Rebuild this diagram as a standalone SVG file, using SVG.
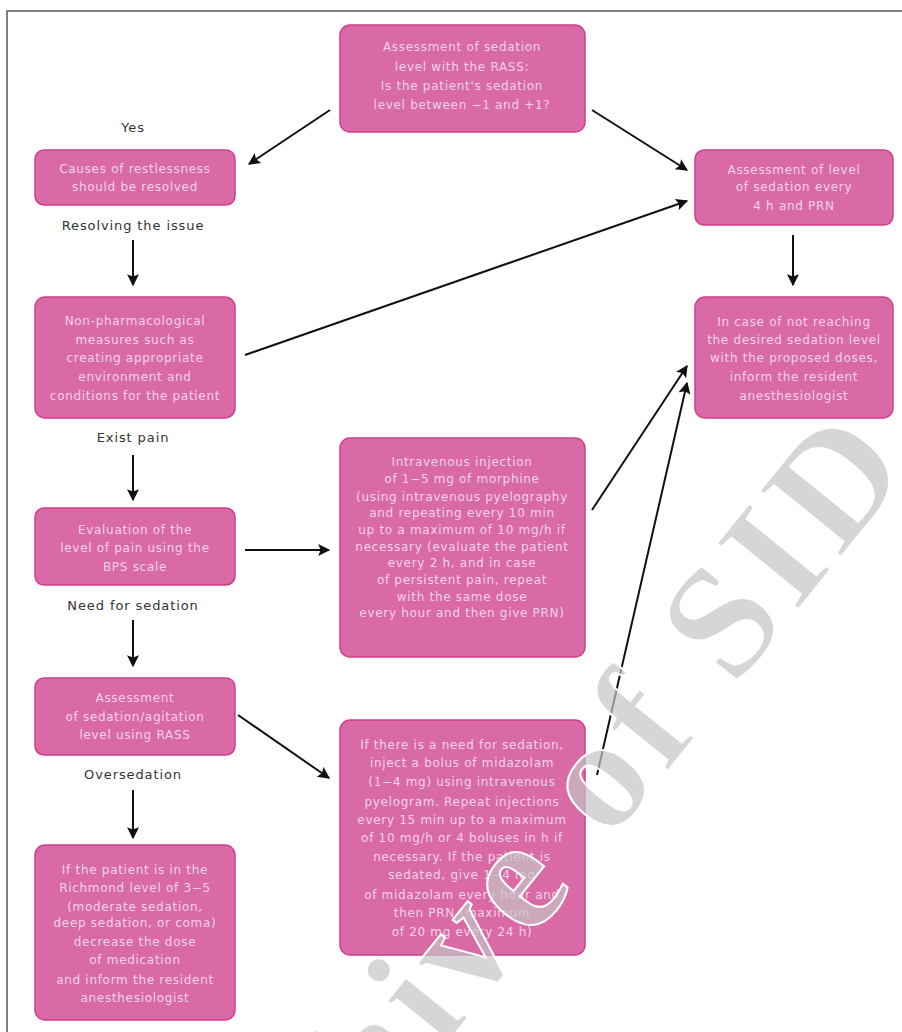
<svg xmlns="http://www.w3.org/2000/svg" width="902" height="1032" viewBox="0 0 902 1032">
<defs>
<marker id="ah" viewBox="0 0 10 10" refX="9" refY="5" markerWidth="7" markerHeight="6" orient="auto" markerUnits="strokeWidth">
<path d="M0,0 L10,5 L0,10 L2,5 Z" fill="#111"/>
</marker>
</defs>
<style>
.box{fill:#d96aa6;stroke:#cf3f8d;stroke-width:1.5}
.bt{font-family:"DejaVu Sans","Liberation Sans",sans-serif;font-size:12px;letter-spacing:0.7px;fill:#f3d3e6;text-anchor:middle}
.lbl{font-family:"DejaVu Sans","Liberation Sans",sans-serif;font-size:13px;letter-spacing:0.9px;fill:#333;text-anchor:middle}
.con{stroke:#111;stroke-width:2;fill:none;marker-end:url(#ah)}
</style>
<rect width="902" height="1032" fill="#fff"/>
<path d="M7,1032 V11 H902" fill="none" stroke="#555" stroke-width="1.5"/>

<g id="n1"><rect class="box" x="340" y="25" width="245" height="107" rx="10"/>
<text class="bt" x="462" y="51">Assessment of sedation</text>
<text class="bt" x="462" y="71">level with the RASS:</text>
<text class="bt" x="462" y="90">Is the patient's sedation</text>
<text class="bt" x="462" y="109">level between −1 and +1?</text></g>

<g id="lyes"><text class="lbl" x="133" y="132">Yes</text></g>

<g id="n2"><rect class="box" x="35" y="150" width="200" height="55" rx="9"/>
<text class="bt" x="135" y="173">Causes of restlessness</text>
<text class="bt" x="135" y="191">should be resolved</text></g>
<g id="l2"><text class="lbl" x="133" y="230">Resolving the issue</text></g>

<g id="n3"><rect class="box" x="35" y="297" width="200" height="121" rx="10"/>
<text class="bt" x="135" y="325">Non-pharmacological</text>
<text class="bt" x="135" y="344">measures such as</text>
<text class="bt" x="135" y="362">creating appropriate</text>
<text class="bt" x="135" y="381">environment and</text>
<text class="bt" x="135" y="400">conditions for the patient</text></g>
<g id="l3"><text class="lbl" x="133" y="442">Exist pain</text></g>

<g id="n4"><rect class="box" x="35" y="508" width="200" height="77" rx="9"/>
<text class="bt" x="135" y="534">Evaluation of the</text>
<text class="bt" x="135" y="552">level of pain using the</text>
<text class="bt" x="135" y="571">BPS scale</text></g>
<g id="l4"><text class="lbl" x="133" y="610">Need for sedation</text></g>

<g id="n5"><rect class="box" x="35" y="678" width="200" height="77" rx="9"/>
<text class="bt" x="135" y="702">Assessment</text>
<text class="bt" x="135" y="721">of sedation/agitation</text>
<text class="bt" x="135" y="739">level using RASS</text></g>
<g id="l5"><text class="lbl" x="133" y="779">Oversedation</text></g>

<g id="n6"><rect class="box" x="35" y="845" width="200" height="175" rx="10"/>
<text class="bt" x="135" y="874">If the patient is in the</text>
<text class="bt" x="135" y="892">Richmond level of 3−5</text>
<text class="bt" x="135" y="911">(moderate sedation,</text>
<text class="bt" x="135" y="927">deep sedation, or coma)</text>
<text class="bt" x="135" y="946">decrease the dose</text>
<text class="bt" x="135" y="964">of medication</text>
<text class="bt" x="135" y="984">and inform the resident</text>
<text class="bt" x="135" y="1002">anesthesiologist</text></g>

<g id="n7"><rect class="box" x="695" y="150" width="198" height="75" rx="9"/>
<text class="bt" x="794" y="174">Assessment of level</text>
<text class="bt" x="794" y="191">of sedation every</text>
<text class="bt" x="794" y="210">4 h and PRN</text></g>

<g id="n8"><rect class="box" x="695" y="297" width="198" height="121" rx="10"/>
<text class="bt" x="794" y="326">In case of not reaching</text>
<text class="bt" x="794" y="344">the desired sedation level</text>
<text class="bt" x="794" y="362">with the proposed doses,</text>
<text class="bt" x="794" y="381">inform the resident</text>
<text class="bt" x="794" y="400">anesthesiologist</text></g>

<g id="n9"><rect class="box" x="340" y="438" width="245" height="219" rx="10"/>
<text class="bt" x="462" y="466">Intravenous injection</text>
<text class="bt" x="462" y="483">of 1−5 mg of morphine</text>
<text class="bt" x="462" y="501">(using intravenous pyelography</text>
<text class="bt" x="462" y="517">and repeating every 10 min</text>
<text class="bt" x="462" y="534">up to a maximum of 10 mg/h if</text>
<text class="bt" x="462" y="551">necessary (evaluate the patient</text>
<text class="bt" x="462" y="567">every 2 h, and in case</text>
<text class="bt" x="462" y="584">of persistent pain, repeat</text>
<text class="bt" x="462" y="601">with the same dose</text>
<text class="bt" x="462" y="617">every hour and then give PRN)</text></g>

<g id="n10"><rect class="box" x="340" y="720" width="245" height="235" rx="10"/>
<text class="bt" x="462" y="749">If there is a need for sedation,</text>
<text class="bt" x="462" y="767">inject a bolus of midazolam</text>
<text class="bt" x="462" y="786">(1−4 mg) using intravenous</text>
<text class="bt" x="462" y="806">pyelogram. Repeat injections</text>
<text class="bt" x="462" y="824">every 15 min up to a maximum</text>
<text class="bt" x="462" y="842">of 10 mg/h or 4 boluses in h if</text>
<text class="bt" x="462" y="861">necessary. If the patient is</text>
<text class="bt" x="462" y="879">sedated, give 1−4 mg</text>
<text class="bt" x="462" y="899">of midazolam every hour and</text>
<text class="bt" x="462" y="917">then PRN (maximum</text>
<text class="bt" x="462" y="936">of 20 mg every 24 h)</text></g>

<g id="connectors">
<line class="con" x1="330" y1="110" x2="249" y2="164"/>
<line class="con" x1="592" y1="110" x2="687" y2="170"/>
<line class="con" x1="245" y1="355" x2="687" y2="201"/>
<line class="con" x1="245" y1="550" x2="329" y2="550"/>
<line class="con" x1="592" y1="510" x2="687" y2="366"/>
<line class="con" x1="238" y1="715" x2="329" y2="778"/>
<line class="con" x1="597" y1="775" x2="687" y2="383"/>
<line class="con" x1="133" y1="240" x2="133" y2="285"/>
<line class="con" x1="133" y1="455" x2="133" y2="500"/>
<line class="con" x1="133" y1="620" x2="133" y2="666"/>
<line class="con" x1="133" y1="790" x2="133" y2="838"/>
<line class="con" x1="793" y1="235" x2="793" y2="285"/>
</g>

<g id="watermark"><text x="0" y="0" transform="translate(917,463) rotate(-51)" text-anchor="end" font-family="Liberation Serif,serif" font-weight="bold" font-size="160" letter-spacing="8" fill="#c4c4c4" fill-opacity="0.7" stroke="#fff" stroke-width="2">Archive of SID</text></g>
</svg>
